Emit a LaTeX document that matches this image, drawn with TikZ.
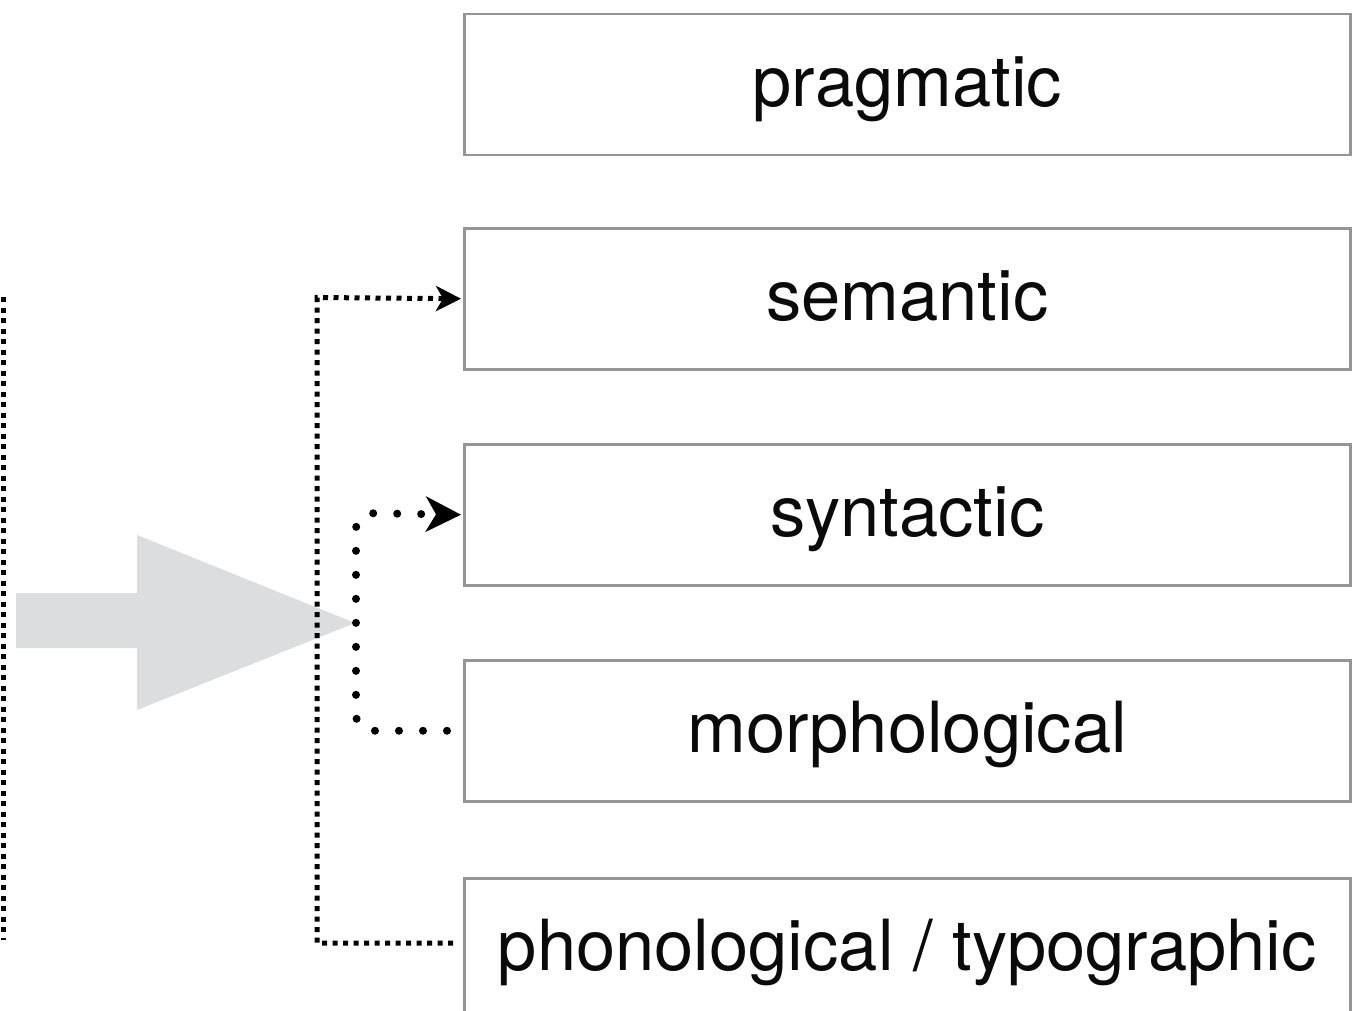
\documentclass[tikz,border=0pt]{standalone}
\usepackage{fontspec}
\setmainfont{TeX Gyre Heros}
\usetikzlibrary{arrows.meta,calc}

\definecolor{boxline}{HTML}{939598}
\definecolor{bigarrow}{HTML}{DCDDDE}
\definecolor{ink}{HTML}{0A0A0A}

\tikzset{
  levelbox/.style={draw=boxline, line width=2.5pt, minimum width=886pt,
    minimum height=141pt, inner sep=0pt, text height=50pt, text depth=6pt,
    font=\fontsize{70.5}{84}\selectfont, text=ink, anchor=north west},
  sqdots/.style={line width=5pt, dash pattern=on 5pt off 5.5pt, line cap=butt},
  rddots/.style={line width=8pt, dash pattern=on 0pt off 24pt, line cap=round},
  tipsmall/.style={-{Stealth[length=25pt,width=25pt,inset=7pt]}},
  tipbig/.style={-{Stealth[length=35pt,width=35pt,inset=10pt]}},
}

\begin{document}
\begin{tikzpicture}[x=1pt,y=-1pt]
  \useasboundingbox (0,0) rectangle (1367,1011);
  \clip (0,0) rectangle (1367,1011);

  % the five levels
  \node[levelbox] (prag)  at (463,13)  {pragmatic};
  \node[levelbox] (sem)   at (463,227) {semantic};
  \node[levelbox] (syn)   at (463,443) {syntactic};
  \node[levelbox] (morph) at (463,659) {morphological};
  \node[levelbox] (phon)  at (463,877) {phonological / typographic};

  % broad grey arrow
  \fill[bigarrow] (16,593) -- (137,593) -- (137,535) -- (355,623)
    -- (137,710) -- (137,648) -- (16,648) -- cycle;

  % left bracket line
  \coordinate (ltop) at (3,297);
  \coordinate (lbot) at (3,940);
  \draw[sqdots] (ltop) -- (lbot);

  % outer connector: phonological up to semantic
  \coordinate (phonend) at ($(phon.west |- 0,943)+(-10,0)$);
  \draw[sqdots, tipsmall, shorten >=2pt]
    (phonend) -- (317,943) -- (317,297.5) -- (sem.west);

  % inner connector: morphological up to syntactic
  \coordinate (morphend) at ($(morph.west)+(-16,0)$);
  \draw[rddots, tipbig, rounded corners=16pt, shorten >=2pt]
    (morphend) -| (356,513) -- (syn.west);
\end{tikzpicture}
\end{document}
